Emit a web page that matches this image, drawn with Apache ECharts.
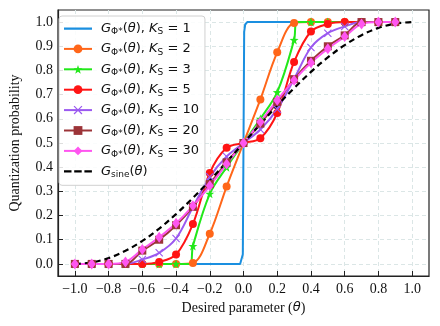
<!DOCTYPE html>
<html>
<head>
<meta charset="utf-8">
<script src="https://cdn.jsdelivr.net/npm/echarts@6/dist/echarts.min.js"></script>
<style>
  html, body { margin: 0; padding: 0; background: #fff; }
  #chart { width: 440px; height: 326px; }
</style>
</head>
<body>
<div id="chart"></div>
<script>
// theta grid used for the marker curves
const theta = [-1.0, -0.9, -0.8, -0.7, -0.6, -0.5, -0.4, -0.3, -0.2, -0.1,
               0.0, 0.1, 0.2, 0.3, 0.4, 0.5, 0.6, 0.7, 0.8, 0.9];
const thetaSine = [-1.0, -0.9, -0.8, -0.7, -0.6, -0.5, -0.4, -0.3, -0.2, -0.1,
                   0.0, 0.1, 0.2, 0.3, 0.4, 0.5, 0.6, 0.7, 0.8, 0.9, 1.0];

// K_S = 1 is a step, read as a few points
const k1Theta = [-1.0, -0.02, -0.01, -0.004, 0.004, 0.01, 0.022, 0.9];
const k1Values = [0, 0, 0.008, 0.04, 0.96, 0.99, 1.0, 1.0];

const k2Values = [0, 0, 0, 0, 0, 0, 0, 0.004, 0.125, 0.32,
                  0.5, 0.68, 0.875, 0.996, 1, 1, 1, 1, 1, 1];
const k3Values = [0, 0, 0, 0, 0, 0, 0, 0.074, 0.29, 0.40,
                  0.5, 0.60, 0.71, 0.926, 1, 1, 1, 1, 1, 1];
const k5Values = [0, 0, 0, 0, 0, 0.008, 0.039, 0.165, 0.376, 0.48,
                  0.5, 0.52, 0.624, 0.835, 0.961, 0.992, 1, 1, 1, 1];
const k10Values = [0, 0, 0, 0, 0.018, 0.046, 0.105, 0.235, 0.36, 0.444,
                   0.5, 0.556, 0.64, 0.765, 0.895, 0.954, 0.982, 1, 1, 1];
const k20Values = [0, 0, 0, 0, 0.055, 0.10, 0.16, 0.236, 0.33, 0.42,
                   0.5, 0.58, 0.67, 0.764, 0.84, 0.90, 0.945, 1, 1, 1];
const k30Values = [0, 0, 0, 0.008, 0.06, 0.11, 0.168, 0.24, 0.323, 0.413,
                   0.5, 0.587, 0.677, 0.76, 0.832, 0.89, 0.94, 0.992, 1, 1];
const sineValues = [0, 0.006, 0.024, 0.054, 0.095, 0.146, 0.206, 0.273, 0.345, 0.422,
                    0.5, 0.578, 0.655, 0.727, 0.794, 0.854, 0.905, 0.946, 0.976, 0.994, 1.0];

// steep corners seen in the picture (no marker drawn there)
const k3Corners = [[-0.318, 0], [0.318, 1]];

const xTicks = [-1.0, -0.8, -0.6, -0.4, -0.2, 0.0, 0.2, 0.4, 0.6, 0.8, 1.0];
const yTicks = [0.0, 0.1, 0.2, 0.3, 0.4, 0.5, 0.6, 0.7, 0.8, 0.9, 1.0];

const pairs = (xs, ys) => xs.map((x, i) => [x, ys[i]]);

const withCorners = (xs, ys, corners) => {
    const pts = pairs(xs, ys).map(p => ({ value: p }));
    corners.forEach(c => pts.push({ value: c, symbol: 'none' }));
    pts.sort((a, b) => a.value[0] - b.value[0]);
    return pts;
};

const STAR = 'path://M0,-10 L2.35,-3.24 L9.51,-3.09 L3.8,1.24 L5.88,8.09 L0,4 L-5.88,8.09 L-3.8,1.24 L-9.51,-3.09 L-2.35,-3.24 Z';
const CROSS = 'path://M-4,-5 L0,-1 L4,-5 L5,-4 L1,0 L5,4 L4,5 L0,1 L-4,5 L-5,4 L-1,0 L-5,-4 Z';
// legend handles without marker, padded to the icon box with two tiny corner dots
const DASHES = 'path://M0,0 h0.05 v0.05 h-0.05 Z M0,4.5 h7.5 v2.2 h-7.5 Z M10.2,4.5 h7.5 v2.2 h-7.5 Z M20.4,4.5 h7.5 v2.2 h-7.5 Z M27.95,10.95 h0.05 v0.05 h-0.05 Z';
const SOLID = 'path://M0,0 h0.05 v0.05 h-0.05 Z M0,4.5 h28 v2.2 h-28 Z M27.95,10.95 h0.05 v0.05 h-0.05 Z';

const labelOf = {
    k1: '{p|}{g|G}{s|Φ*}{n|(}{i|θ}{n|), }{g|K}{s|S}{n| = 1}',
    k2: '{p|}{g|G}{s|Φ*}{n|(}{i|θ}{n|), }{g|K}{s|S}{n| = 2}',
    k3: '{p|}{g|G}{s|Φ*}{n|(}{i|θ}{n|), }{g|K}{s|S}{n| = 3}',
    k5: '{p|}{g|G}{s|Φ*}{n|(}{i|θ}{n|), }{g|K}{s|S}{n| = 5}',
    k10: '{p|}{g|G}{s|Φ*}{n|(}{i|θ}{n|), }{g|K}{s|S}{n| = 10}',
    k20: '{p|}{g|G}{s|Φ*}{n|(}{i|θ}{n|), }{g|K}{s|S}{n| = 20}',
    k30: '{p|}{g|G}{s|Φ*}{n|(}{i|θ}{n|), }{g|K}{s|S}{n| = 30}',
    sine: '{p|}{g|G}{s|sine}{n|(}{i|θ}{n|)}'
};

const fmt = v => (v < 0 ? '\u2212' : '') + Math.abs(v).toFixed(1);

const lineSeries = (name, data, color, symbol, size) => ({
    name: name,
    type: 'line',
    data: data,
    smooth: 0.35,
    symbol: symbol,
    symbolSize: size,
    showSymbol: true,
    lineStyle: { color: color, width: 2 },
    itemStyle: { color: color },
    emphasis: { disabled: true }
});

const chart = echarts.init(document.getElementById('chart'));

const option = {
    animation: false,
    grid: { left: 53, right: 11, top: 10, bottom: 50, show: true, borderColor: '#222', borderWidth: 1.2 },
    legend: {
        left: 59,
        top: 16,
        orient: 'vertical',
        itemWidth: 28,
        itemHeight: 11,
        itemGap: 5.9,
        padding: [6, 6, 6, 4],
        backgroundColor: 'rgba(255,255,255,0.85)',
        borderColor: '#d0d0d0',
        borderWidth: 1,
        borderRadius: 3,
        data: [{ name: 'k1', icon: SOLID, itemStyle: { color: '#1a8fe0' } },
               'k2', 'k3', 'k5', 'k10', 'k20', 'k30',
               { name: 'sine', icon: DASHES, itemStyle: { color: '#000' } }],
        formatter: name => labelOf[name],
        textStyle: {
            color: '#111',
            rich: {
                p: { width: 4 },
                g: { fontFamily: 'DejaVu Sans', fontStyle: 'italic', fontSize: 13, lineHeight: 16, color: '#111' },
                i: { fontFamily: 'DejaVu Sans', fontStyle: 'italic', fontSize: 13, lineHeight: 16, color: '#111' },
                n: { fontFamily: 'DejaVu Sans', fontSize: 13, lineHeight: 16, color: '#111' },
                s: { fontFamily: 'DejaVu Sans', fontSize: 9, lineHeight: 8, verticalAlign: 'bottom', color: '#111' }
            }
        }
    },
    xAxis: {
        type: 'value',
        min: -1.1,
        max: 1.1,
        name: '{a|Desired parameter (}{t|θ}{a|)}',
        nameLocation: 'middle',
        nameGap: 25,
        nameTextStyle: {
            rich: {
                a: { fontFamily: 'Liberation Serif', fontSize: 14, color: '#111' },
                t: { fontFamily: 'DejaVu Sans', fontStyle: 'italic', fontSize: 13, color: '#111' }
            }
        },
        axisLine: { onZero: false, lineStyle: { color: '#222', width: 1.2 } },
        axisTick: { inside: true, length: 5, customValues: xTicks, lineStyle: { color: '#222' } },
        axisLabel: {
            customValues: xTicks,
            formatter: fmt,
            margin: 6,
            fontFamily: 'Liberation Serif',
            fontSize: 14,
            color: '#111'
        },
        splitLine: { show: true, lineStyle: { color: '#dbe6e6', type: [4, 3], width: 1 } }
    },
    yAxis: {
        type: 'value',
        min: -0.05,
        max: 1.05,
        name: 'Quantization probability',
        nameLocation: 'middle',
        nameGap: 36,
        nameTextStyle: { fontFamily: 'Liberation Serif', fontSize: 14, color: '#111' },
        axisLine: { show: true, onZero: false, lineStyle: { color: '#222', width: 1.2 } },
        axisTick: { show: true, inside: true, length: 5, customValues: yTicks, lineStyle: { color: '#222' } },
        axisLabel: {
            customValues: yTicks,
            formatter: fmt,
            margin: 5,
            fontFamily: 'Liberation Serif',
            fontSize: 14,
            color: '#111'
        },
        splitLine: { show: true, lineStyle: { color: '#dbe6e6', type: [4, 3], width: 1 } }
    },
    series: [
        Object.assign(lineSeries('k1', pairs(k1Theta, k1Values), '#1a8fe0', 'none', 0), { smooth: false }),
        lineSeries('k2', pairs(theta, k2Values), '#ff6619', 'circle', 8),
        lineSeries('k3', withCorners(theta, k3Values, k3Corners), '#22e81a', STAR, 9),
        lineSeries('k5', pairs(theta, k5Values), '#ff1414', 'circle', 8),
        lineSeries('k10', pairs(theta, k10Values), '#9b59f0', CROSS, 8),
        lineSeries('k20', pairs(theta, k20Values), '#9c3438', 'rect', 8),
        lineSeries('k30', pairs(theta, k30Values), '#ff55f0', 'diamond', [8, 11]),
        {
            name: 'sine',
            type: 'line',
            data: pairs(thetaSine, sineValues),
            smooth: 0.35,
            symbol: 'none',
            lineStyle: { color: '#000', width: 2.2, type: [6, 4] },
            itemStyle: { color: '#000' },
            emphasis: { disabled: true }
        }
    ]
};

chart.setOption(option);
</script>
</body>
</html>
